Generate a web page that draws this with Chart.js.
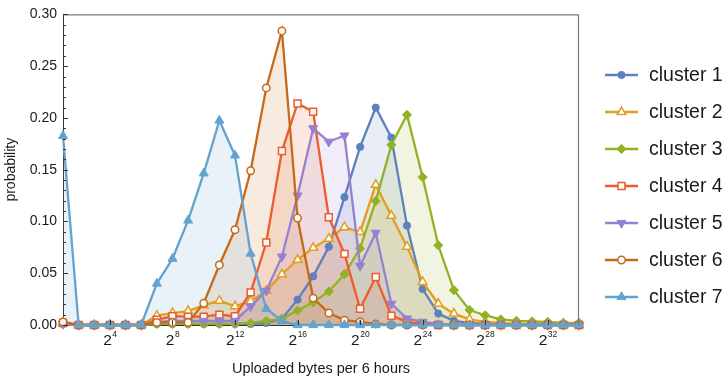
<!DOCTYPE html>
<html>
<head>
<meta charset="utf-8">
<script src="https://cdn.jsdelivr.net/npm/chart.js@4/dist/chart.umd.min.js"></script>
<style>
  html, body { margin: 0; padding: 0; background: #fff; }
  canvas { display: block; }
</style>
</head>
<body>
<canvas id="uploadChart" width="728" height="382"></canvas>
<script>
// exponent k on the x axis means 2^k bytes
const exponents = [1, 2, 3, 4, 5, 6, 7, 8, 9, 10, 11, 12, 13, 14, 15, 16, 17,
                   18, 19, 20, 21, 22, 23, 24, 25, 26, 27, 28, 29, 30, 31, 32, 33, 34];
const xTickExps = [4, 8, 12, 16, 20, 24, 28, 32];
const clusterNames = ['cluster 1', 'cluster 2', 'cluster 3', 'cluster 4', 'cluster 5', 'cluster 6', 'cluster 7'];

const cluster1 = [0.001, 0, 0, 0, 0, 0, 0.001, 0.001, 0.001, 0.001, 0.001, 0.001, 0.001, 0.002, 0.006, 0.0245, 0.047,
                  0.0756, 0.1235, 0.172, 0.21, 0.181, 0.096, 0.0347, 0.011, 0.004, 0.002, 0.001, 0, 0, 0, 0, 0, 0];
const cluster2 = [0.002, 0, 0, 0, 0, 0, 0.009, 0.0115, 0.0135, 0.019, 0.0235, 0.018, 0.023, 0.033, 0.049, 0.063, 0.0745,
                  0.0834, 0.0945, 0.0898, 0.1354, 0.1055, 0.0756, 0.0416, 0.0205, 0.011, 0.0054, 0.003, 0.002, 0.001, 0.001, 0.001, 0, 0];
const cluster3 = [0.001, 0, 0, 0, 0, 0, 0.001, 0.001, 0.001, 0.001, 0.001, 0.001, 0.002, 0.004, 0.006, 0.014, 0.022,
                  0.0324, 0.049, 0.074, 0.1197, 0.174, 0.203, 0.1427, 0.077, 0.0337, 0.0145, 0.0094, 0.0054, 0.004, 0.0035, 0.003, 0.002, 0.002];
const cluster4 = [0.002, 0, 0, 0, 0, 0, 0.005, 0.0085, 0.008, 0.008, 0.010, 0.0085, 0.0315, 0.0797, 0.168, 0.214, 0.206,
                  0.104, 0.0687, 0.0157, 0.0463, 0.009, 0.003, 0.001, 0, 0, 0, 0, 0, 0, 0, 0, 0, 0];
const cluster5 = [0.001, 0, 0, 0, 0, 0, 0.003, 0.004, 0.004, 0.004, 0.004, 0.004, 0.018, 0.033, 0.066, 0.125, 0.19,
                  0.177, 0.183, 0.057, 0.089, 0.0205, 0.0063, 0.003, 0.001, 0, 0, 0, 0, 0, 0, 0, 0, 0];
const cluster6 = [0.003, 0, 0, 0, 0, 0, 0.0025, 0.0025, 0.0025, 0.021, 0.058, 0.092, 0.149, 0.229, 0.284, 0.1033, 0.026,
                  0.0116, 0.0047, 0.003, 0.001, 0, 0, 0, 0, 0, 0, 0, 0, 0, 0, 0, 0, 0];
const cluster7 = [0.1827, 0, 0, 0, 0, 0, 0.04, 0.064, 0.101, 0.1465, 0.1975, 0.1638, 0.069, 0.0157, 0.004, 0, 0,
                  0, 0, 0, 0, 0, 0, 0, 0, 0, 0, 0, 0, 0, 0, 0, 0, 0];

const seriesValues = [cluster1, cluster2, cluster3, cluster4, cluster5, cluster6, cluster7];

const colors = ['#5d80bf', '#e39e1c', '#92b226', '#ec5c2c', '#9880d0', '#c66a1a', '#64a2cf'];
const markers = [
  { pointStyle: 'circle',   radius: 3.6, rotation: 0,   open: false },
  { pointStyle: 'triangle', radius: 5,   rotation: 0,   open: true },
  { pointStyle: 'rectRot',  radius: 4.6, rotation: 0,   open: false },
  { pointStyle: 'rect',     radius: 4.9, rotation: 0,   open: true },
  { pointStyle: 'triangle', radius: 5.2, rotation: 180, open: false },
  { pointStyle: 'circle',   radius: 3.7, rotation: 0,   open: true },
  { pointStyle: 'triangle', radius: 5.2, rotation: 0,   open: false }
];

const FONT = '"Liberation Sans", Arial, sans-serif';

function hexToRgba(hex, a) {
  const n = parseInt(hex.slice(1), 16);
  return 'rgba(' + (n >> 16) + ',' + ((n >> 8) & 255) + ',' + (n & 255) + ',' + a + ')';
}

const datasets = seriesValues.map((vals, i) => ({
  label: clusterNames[i],
  data: exponents.map((e, j) => ({ x: e, y: vals[j] })),
  borderColor: colors[i],
  backgroundColor: hexToRgba(colors[i], 0.14),
  borderWidth: 2.3,
  fill: 'origin',
  tension: 0,
  clip: false,
  order: 7 - i,   // later clusters drawn on top
  pointStyle: markers[i].pointStyle,
  pointRadius: markers[i].radius,
  pointRotation: markers[i].rotation,
  pointBackgroundColor: markers[i].open ? '#ffffff' : colors[i],
  pointBorderColor: colors[i],
  pointBorderWidth: markers[i].open ? 1.5 : 1
}));

// frame, inward tick marks, 2^k labels and the legend
const decorations = {
  id: 'decorations',
  afterDraw(chart) {
    const ctx = chart.ctx;
    const area = chart.chartArea;
    const xs = chart.scales.x, ys = chart.scales.y;
    ctx.save();
    ctx.strokeStyle = '#7a7a7a';
    ctx.lineWidth = 1.2;
    ctx.beginPath();
    ctx.moveTo(area.left, area.top + 0.5);
    ctx.lineTo(area.right - 0.5, area.top + 0.5);
    ctx.lineTo(area.right - 0.5, area.bottom);
    ctx.stroke();

    ctx.strokeStyle = '#333';
    ctx.lineWidth = 1;
    ctx.beginPath();
    for (let i = 0; i <= 30; i++) {
      const y = Math.round(ys.getPixelForValue(i / 100)) + 0.5;
      const len = i % 5 === 0 ? 5 : 3;
      ctx.moveTo(area.left, y);
      ctx.lineTo(area.left + len, y);
    }
    xTickExps.forEach(k => {
      const x = Math.round(xs.getPixelForValue(k)) + 0.5;
      ctx.moveTo(x, area.bottom);
      ctx.lineTo(x, area.bottom - 5);
    });
    ctx.stroke();

    // x tick labels as 2 with a raised exponent
    ctx.fillStyle = '#1a1a1a';
    ctx.textAlign = 'left';
    ctx.textBaseline = 'alphabetic';
    xTickExps.forEach(k => {
      const x = xs.getPixelForValue(k);
      ctx.font = '15.5px ' + FONT;
      const wBase = ctx.measureText('2').width;
      ctx.font = '8.5px ' + FONT;
      const wExp = ctx.measureText(String(k)).width;
      const x0 = x - (wBase + wExp) / 2;
      ctx.font = '15.5px ' + FONT;
      ctx.fillText('2', x0, area.bottom + 20);
      ctx.font = '8.5px ' + FONT;
      ctx.fillText(String(k), x0 + wBase + 0.5, area.bottom + 12);
    });

    // legend
    const lx0 = 605, lx1 = 638, ly0 = 75, step = 37;
    chart.data.datasets.forEach((ds, i) => {
      const y = ly0 + i * step;
      ctx.strokeStyle = colors[i];
      ctx.lineWidth = 2.3;
      ctx.beginPath();
      ctx.moveTo(lx0, y);
      ctx.lineTo(lx1, y);
      ctx.stroke();
      ctx.fillStyle = markers[i].open ? '#ffffff' : colors[i];
      ctx.lineWidth = markers[i].open ? 1.5 : 1;
      Chart.helpers.drawPoint(ctx, {
        pointStyle: markers[i].pointStyle,
        rotation: markers[i].rotation,
        radius: markers[i].radius,
        borderWidth: ctx.lineWidth
      }, (lx0 + lx1) / 2, y);
      ctx.fillStyle = '#1a1a1a';
      ctx.font = '19.5px ' + FONT;
      ctx.textAlign = 'left';
      ctx.textBaseline = 'middle';
      ctx.fillText(ds.label, 649, y + 1);
    });
    ctx.restore();
  }
};

Chart.defaults.font.family = FONT;
Chart.defaults.color = '#1a1a1a';

new Chart(document.getElementById('uploadChart').getContext('2d'), {
  type: 'line',
  data: { datasets: datasets },
  options: {
    responsive: false,
    animation: false,
    layout: { padding: { top: 8, right: 149, left: 0, bottom: 0 } },
    scales: {
      x: {
        type: 'linear',
        min: 1,
        max: 34,
        afterBuildTicks: scale => { scale.ticks = xTickExps.map(v => ({ value: v })); },
        afterFit: scale => { scale.height = 57; },
        grid: { display: false, drawTicks: false },
        border: { display: true, color: '#333', width: 1 },
        ticks: { display: false },
        title: {
          display: true,
          text: 'Uploaded bytes per 6 hours',
          font: { size: 14.5 },
          padding: { top: 0, bottom: 4 }
        }
      },
      y: {
        min: 0,
        max: 0.3,
        afterFit: scale => { scale.width = 63; },
        grid: { display: false, drawTicks: false },
        border: { display: true, color: '#333', width: 1 },
        ticks: {
          stepSize: 0.05,
          padding: 6,
          font: { size: 14 },
          callback: v => v.toFixed(2)
        },
        title: {
          display: true,
          text: 'probability',
          font: { size: 14 },
          padding: { top: 3, bottom: 0 }
        }
      }
    },
    plugins: {
      legend: { display: false },
      tooltip: { enabled: false },
      filler: { drawTime: 'beforeDatasetsDraw' }
    }
  },
  plugins: [decorations]
});
</script>
</body>
</html>
